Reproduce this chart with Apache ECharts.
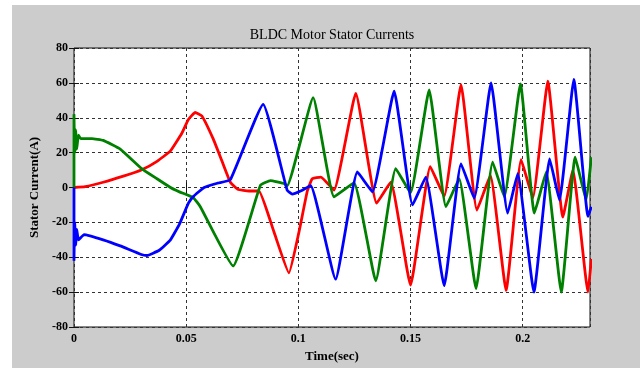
<!DOCTYPE html>
<html>
<head>
<meta charset="utf-8">
<script src="https://cdn.jsdelivr.net/npm/echarts@6/dist/echarts.min.js"></script>
<style>
  html, body { margin: 0; padding: 0; background: #fff; }
  #wrap { position: relative; width: 640px; height: 368px; background: #fff; overflow: hidden; }
  #chart { position: absolute; left: 12px; top: 5px; width: 628px; height: 363px; background: #cccccc; }
</style>
</head>
<body>
<div id="wrap"><div id="chart"></div></div>
<script>
// 轴刻度
const xTicks = [0, 0.05, 0.1, 0.15, 0.2];
const yTicks = [-80, -60, -40, -20, 0, 20, 40, 60, 80];

// 三相电流 (时间 s, 电流 A), 关键点
const redTime = [0, 0.005, 0.013, 0.022, 0.030, 0.037, 0.043, 0.048, 0.051, 0.054, 0.057, 0.062, 0.066, 0.0697, 0.073, 0.078, 0.0824,
  0.089, 0.0958, 0.1002, 0.104, 0.1062, 0.110, 0.1159, 0.1256, 0.1349, 0.1412, 0.150, 0.1588, 0.165, 0.1725, 0.1796, 0.1856,
  0.1926, 0.1993, 0.2045, 0.2112, 0.2179, 0.2224, 0.2291, 0.2306];
const redCurrent = [0, 0.5, 3, 6.5, 10, 15, 21, 31, 39, 43, 41, 28, 15, 3, -1, -2, -2,
  -25, -49, -26, -2, 5, 6, -1.5, 54, -9, 3, -56, 12, -5, 59, -13, 7,
  -59, 16, -6, 61, -17, 10, -60, -41];

const greenTime = [0, 0, 0.0003, 0.0008, 0.0012, 0.002, 0.003, 0.008, 0.013, 0.0206, 0.030, 0.037, 0.043, 0.047, 0.050, 0.0533, 0.0563,
  0.0709, 0.0831, 0.0876, 0.0935, 0.095, 0.1066, 0.1159, 0.1248, 0.1345, 0.1434, 0.150, 0.1583, 0.1658, 0.1717, 0.1792, 0.1866,
  0.1918, 0.199, 0.2052, 0.2105, 0.2172, 0.2234, 0.2283, 0.2306];
const greenCurrent = [0, 42, 20, 33, 22, 30, 28, 28, 27, 22, 11, 5, 0, -2.5, -4, -6, -11,
  -45, 1.3, 4, 2.3, 1, 51.5, -5.3, 2.7, -53.5, 10.8, -3, 56, -11, 5, -58, 14.6,
  -5.3, 59.4, -14.7, 8.9, -60, 17.4, -7.2, 17.4];

const blueTime = [0, 0, 0.0003, 0.0008, 0.0012, 0.002, 0.0045, 0.013, 0.0206, 0.030, 0.0325, 0.038, 0.043, 0.047, 0.051, 0.0533, 0.058,
  0.064, 0.0697, 0.0843, 0.095, 0.0973, 0.101, 0.1055, 0.1166, 0.1263, 0.133, 0.1427, 0.1509, 0.1568, 0.165, 0.1725, 0.1784,
  0.1859, 0.1933, 0.1978, 0.205, 0.212, 0.2164, 0.2228, 0.2291, 0.2306];
const blueCurrent = [0, -42, -20, -33, -24, -30, -27, -30, -33.5, -38.4, -39, -36, -30, -21, -9, -5, 0,
  2.5, 4.5, 47.7, -1.5, -3.8, -2, 1, -52.6, 8.9, -2.5, 55.2, -10, 6, -56.3, 13.6, -6.2,
  60, -14.7, 8, -60, 16.4, -7.2, 62, -16.6, -11];

const pairs = (t, v) => t.map((x, i) => [x, v[i]]);

const serif = '"Liberation Serif", "DejaVu Serif", serif';
const chart = echarts.init(document.getElementById('chart'));

const gridLine = { show: true, lineStyle: { color: '#333', type: [3, 3], width: 1 } };

const option = {
  animation: false,
  graphic: [{
    type: 'text',
    x: 320,
    y: 30,
    style: {
      text: 'BLDC Motor Stator Currents',
      font: '14px ' + serif,
      fill: '#000',
      textAlign: 'center',
      textVerticalAlign: 'middle'
    }
  }],
  grid: {
    left: 62,
    top: 43,
    right: 50,
    bottom: 38,
    show: true,
    backgroundColor: '#fff',
    borderColor: '#111',
    borderWidth: 1
  },
  xAxis: [{
    type: 'value',
    min: 0,
    max: 0.23,
    interval: 0.05,
    name: 'Time(sec)',
    nameLocation: 'middle',
    nameGap: 23,
    nameTextStyle: { fontFamily: serif, fontWeight: 'bold', fontSize: 13, color: '#000' },
    axisLine: { show: false },
    axisTick: { show: true, inside: true, length: 5, lineStyle: { color: '#111' } },
    axisLabel: {
      margin: 6,
      showMaxLabel: false,
      fontFamily: serif, fontWeight: 'bold', fontSize: 12, color: '#000',
      formatter: v => xTicks.includes(Math.round(v * 100) / 100) ? String(Math.round(v * 100) / 100) : ''
    },
    splitLine: gridLine
  }, {
    type: 'value',
    position: 'top',
    min: 0,
    max: 0.23,
    interval: 0.05,
    axisLine: { show: false },
    axisTick: { show: true, inside: true, length: 5, lineStyle: { color: '#111' } },
    axisLabel: { show: false },
    splitLine: { show: false }
  }],
  yAxis: [{
    type: 'value',
    min: -80,
    max: 80,
    interval: 20,
    name: 'Stator Current(A)',
    nameLocation: 'middle',
    nameGap: 30,
    nameTextStyle: { fontFamily: serif, fontWeight: 'bold', fontSize: 13, color: '#000' },
    axisLine: { show: false },
    axisTick: { show: true, inside: true, length: 5, lineStyle: { color: '#111' } },
    axisLabel: {
      margin: 6,
      fontFamily: serif, fontWeight: 'bold', fontSize: 12, color: '#000',
      formatter: v => yTicks.includes(v) ? String(v) : ''
    },
    splitLine: gridLine
  }, {
    type: 'value',
    position: 'right',
    min: -80,
    max: 80,
    interval: 20,
    axisLine: { show: false },
    axisTick: { show: true, inside: true, length: 5, lineStyle: { color: '#111' } },
    axisLabel: { show: false },
    splitLine: { show: false }
  }],
  series: [{
    name: 'Ia',
    type: 'line',
    data: pairs(redTime, redCurrent),
    showSymbol: false,
    smooth: 0.12,
    lineStyle: { color: '#ff0000', width: 2.8 }
  }, {
    name: 'Ib',
    type: 'line',
    data: pairs(greenTime, greenCurrent),
    showSymbol: false,
    smooth: 0.12,
    lineStyle: { color: '#008000', width: 2.8 }
  }, {
    name: 'Ic',
    type: 'line',
    data: pairs(blueTime, blueCurrent),
    showSymbol: false,
    smooth: 0.12,
    lineStyle: { color: '#0000ff', width: 2.8 }
  }]
};

chart.setOption(option);
</script>
</body>
</html>
